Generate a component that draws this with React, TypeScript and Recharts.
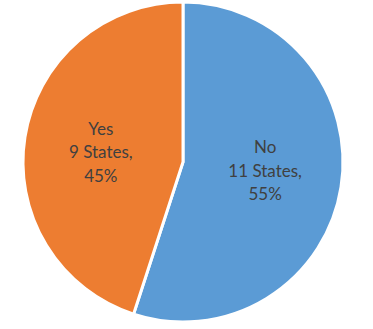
import { PieChart, Pie, Cell } from "recharts"

const categories = ["No", "Yes"]
const states = [11, 9]
const percents = [55, 45]
const colors = ["#5B9BD5", "#ED7D31"]

const data = categories.map((name, i) => ({ name, value: percents[i], states: states[i] }))

const RADIAN = Math.PI / 180

const renderLabel = (props: any) => {
  const { cx, cy, midAngle, outerRadius, index } = props
  const r = outerRadius * 0.52
  const x = cx + r * Math.cos(-midAngle * RADIAN)
  // excel pulls the labels a bit toward the horizontal centre line
  const y = cy - 1 + 0.7 * r * Math.sin(-midAngle * RADIAN)
  const d = data[index]
  const lines = [d.name, `${d.states} States,`, `${d.value}%`]
  return (
    <text x={x} y={y} fill="#404040" textAnchor="middle" fontSize={17} fontFamily="Lato, sans-serif">
      {lines.map((l, i) => (
        <tspan key={i} x={x} dy={i === 0 ? -17 : 23.5}>
          {l}
        </tspan>
      ))}
    </text>
  )
}

export default function App() {
  return (
    <div style={{ position: "absolute", left: 0, top: 0, width: 373, height: 329, background: "#fff" }}>
      <PieChart width={373} height={329} margin={{ top: 0, right: 0, bottom: 0, left: 0 }}>
        <Pie
          data={data}
          dataKey="value"
          cx={183}
          cy={162}
          outerRadius={160}
          startAngle={90}
          endAngle={-270}
          stroke="#fff"
          strokeWidth={3}
          label={renderLabel}
          labelLine={false}
          isAnimationActive={false}
        >
          {data.map((d, i) => (
            <Cell key={d.name} fill={colors[i]} />
          ))}
        </Pie>
      </PieChart>
    </div>
  )
}
